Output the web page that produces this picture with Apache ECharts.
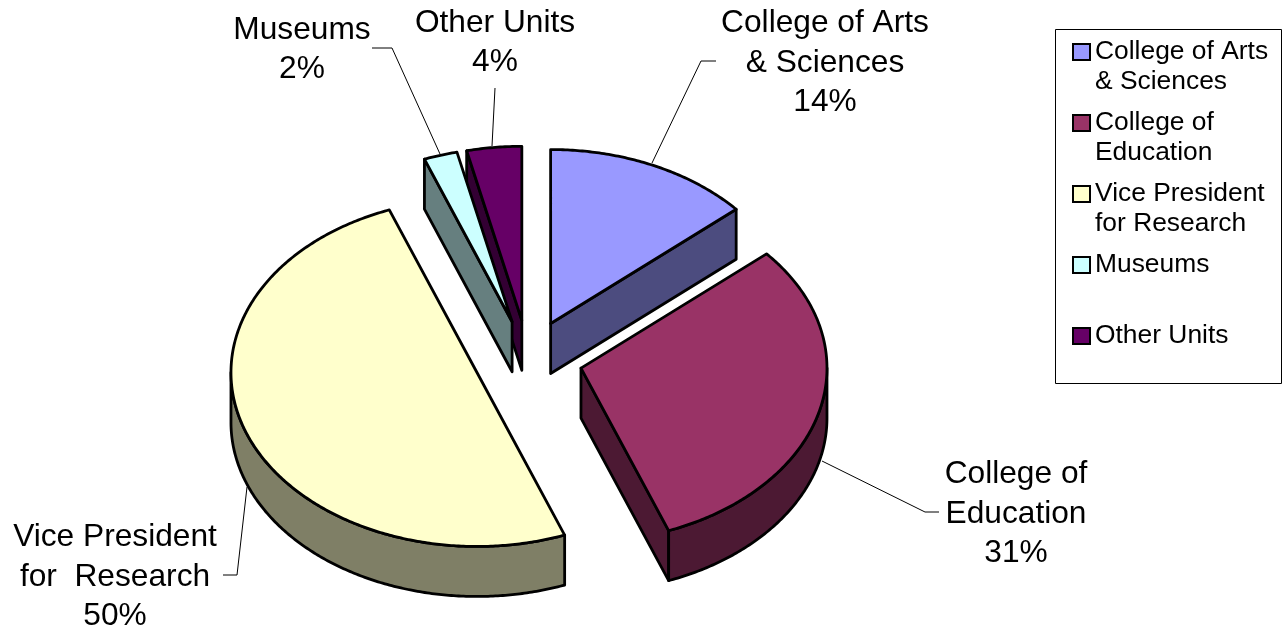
<!DOCTYPE html>
<html>
<head>
<meta charset="utf-8">
<style>
  html, body { margin: 0; padding: 0; background: #fff; }
  #chart { width: 1283px; height: 632px; }
</style>
<script src="https://cdn.jsdelivr.net/npm/echarts@6/dist/echarts.min.js"></script>
</head>
<body>
<div id="chart"></div>
<script>
const categories = ['College of Arts\n& Sciences', 'College of\nEducation', 'Vice President\nfor Research', 'Museums', 'Other Units']
const labelNames = ['College of Arts\n& Sciences', 'College of\nEducation', 'Vice President\nfor  Research', 'Museums', 'Other Units']
const shares = [13.6, 30.6, 50, 2.2, 3.6]
const colors = ['#9999FF', '#993366', '#FFFFCC', '#CCFFFF', '#660066']
const sideColors = ['#4C4C7F', '#4C1933', '#7F7F66', '#667F7F', '#330033']
// paint order, back slices first
const drawOrder = [3, 5, 4, 2, 1]

// pie geometry
const CX = 528
const CY = 358.7
const RX = 246
const RY = 174
const DEPTH = 50
const EXPLODE = 0.222

// label centre + leader line for each slice
const labelCenters = [[825, 63], [1016, 514], [115, 577], [302, 50], [495, 43]]
const leaders = [
  [[716, 61], [701, 61], [652, 163]],
  [[939, 512], [925, 512], [822, 461]],
  [[223, 575], [237, 575], [247, 487]],
  [[372, 48], [392, 48], [440, 154]],
  [[495, 88], [492, 146]]
]

const FONT = '"Liberation Sans", Arial, sans-serif'
const total = shares.reduce((a, b) => a + b, 0)
const rad = v => (v / total) * Math.PI * 2

function rimPoint(cx, cy, t) {
  return [cx + RX * Math.sin(t), cy - RY * Math.cos(t)]
}

function arcPoints(cx, cy, t0, t1) {
  let pts = []
  let n = Math.max(2, Math.ceil((t1 - t0) / 0.01))
  for (let i = 0; i <= n; i++) {
    pts.push(rimPoint(cx, cy, t0 + ((t1 - t0) * i) / n))
  }
  return pts
}

function drop(pts) {
  return pts.map(p => [p[0], p[1] + DEPTH]).reverse()
}

function sliceRenderer(index) {
  let start = 0
  for (let i = 0; i < index; i++) start += rad(shares[i])

  return function (params, api) {
    let end = start + rad(api.value(0))
    let mid = (start + end) / 2
    let cx = CX + EXPLODE * RX * Math.sin(mid)
    let cy = CY - EXPLODE * RY * Math.cos(mid)
    let apex = [cx, cy]
    let top = colors[index]
    let side = sideColors[index]
    let line = { stroke: '#000', lineWidth: 2.8, lineJoin: 'round' }
    let children = []

    const wall = (points, fill) => {
      children.push({ type: 'polygon', shape: { points }, style: { fill, ...line } })
    }

    // straight cut faces, only the ones turned to the viewer
    if (Math.sin(start) < -0.001) {
      let edge = [apex, rimPoint(cx, cy, start)]
      wall(edge.concat(drop(edge)), side)
    }
    if (Math.sin(end) > 0.001) {
      let edge = [apex, rimPoint(cx, cy, end)]
      wall(edge.concat(drop(edge)), side)
    }
    // outer rim, front half only
    let a = Math.max(start, Math.PI / 2)
    let b = Math.min(end, (Math.PI * 3) / 2)
    if (b > a) {
      let arc = arcPoints(cx, cy, a, b)
      wall(arc.concat(drop(arc)), side)
    }
    // top face
    wall([apex].concat(arcPoints(cx, cy, start, end)), top)

    return { type: 'group', children }
  }
}

const labelGraphics = []
labelNames.forEach((name, i) => {
  labelGraphics.push({
    type: 'polyline',
    z: 10,
    silent: true,
    shape: { points: leaders[i] },
    style: { stroke: '#000', lineWidth: 1, fill: null }
  })
  labelGraphics.push({
    type: 'text',
    z: 10,
    silent: true,
    x: labelCenters[i][0],
    y: labelCenters[i][1],
    style: {
      text: name + '\n' + Math.round(shares[i]) + '%',
      fontFamily: FONT,
      fontSize: 31.7,
      lineHeight: 39.5,
      fill: '#000',
      align: 'center',
      verticalAlign: 'middle'
    }
  })
})

// legend frame, the legend itself needs taller rows than the frame allows
labelGraphics.push({
  type: 'rect',
  z: 0,
  silent: true,
  shape: { x: 1055.5, y: 29.5, width: 226, height: 354 },
  style: { fill: '#fff', stroke: '#000', lineWidth: 1 }
})

let chart = echarts.init(document.getElementById('chart'), null, { renderer: 'canvas' })
chart.setOption({
  animation: false,
  backgroundColor: '#fff',
  tooltip: { show: false },
  legend: {
    left: 1072,
    top: 7,
    orient: 'vertical',
    align: 'left',
    padding: 0,
    selectedMode: false,
    icon: 'rect',
    itemWidth: 17,
    itemHeight: 16,
    itemGap: -19,
    itemStyle: { borderColor: '#000', borderWidth: 2 },
    data: categories,
    // blank lines keep the swatch on the first text line, all rows same height
    formatter: name => '\n' + name + (name.indexOf('\n') < 0 ? '\n ' : ''),
    textStyle: {
      fontFamily: FONT,
      fontSize: 26.4,
      lineHeight: 30,
      color: '#000'
    }
  },
  graphic: { elements: labelGraphics },
  series: categories.map((name, i) => ({
    name,
    type: 'custom',
    coordinateSystem: 'none',
    silent: true,
    z: drawOrder[i],
    itemStyle: { color: colors[i] },
    renderItem: sliceRenderer(i),
    data: [[shares[i]]]
  }))
})
</script>
</body>
</html>
